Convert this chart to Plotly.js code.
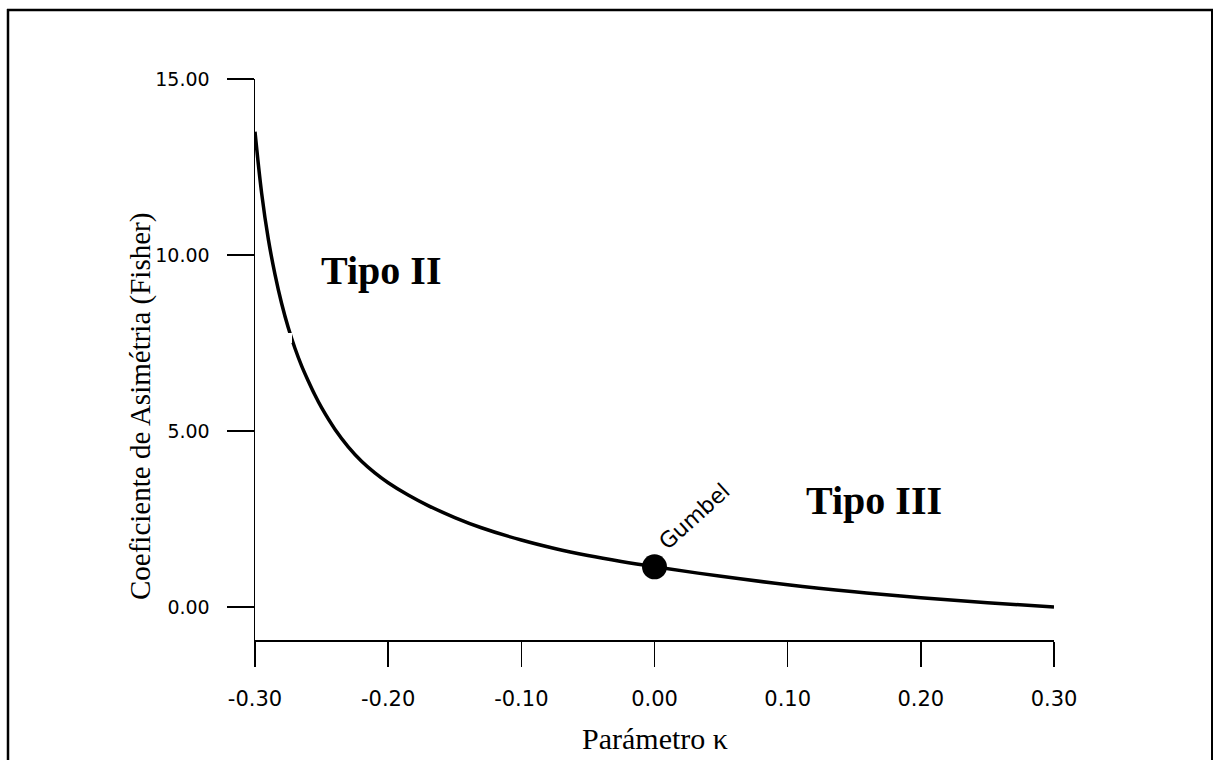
<!DOCTYPE html>
<html>
<head>
<meta charset="utf-8">
<script src="https://cdn.plot.ly/plotly-3.0.1.min.js"></script>
<style>html,body{margin:0;padding:0;background:#fff;}#chart{width:1216px;height:760px;}</style>
</head>
<body>
<div id="chart"></div>
<script>
// Parámetro κ (x) and Coeficiente de Asimetría (y)
const kappa = [-0.300, -0.295, -0.290, -0.285, -0.280, -0.275, -0.270, -0.265, -0.260, -0.255, -0.250, -0.240, -0.230, -0.220, -0.210, -0.200, -0.185, -0.170, -0.150, -0.130, -0.100, -0.075, -0.050, -0.025, 0.000, 0.050, 0.100, 0.150, 0.200, 0.250, 0.300];
const skew  = [13.50, 11.75, 10.45, 9.45, 8.62, 7.93, 7.35, 6.85, 6.42, 6.02, 5.66, 5.05, 4.55, 4.14, 3.81, 3.53, 3.18, 2.88, 2.54, 2.25, 1.90, 1.66, 1.46, 1.29, 1.14, 0.87, 0.63, 0.43, 0.26, 0.12, 0.00];
const gumbelK = [0.0];
const gumbelSkew = [1.14];
const xTicks = [-0.30, -0.20, -0.10, 0.00, 0.10, 0.20, 0.30];
const xTickText = ['-0.30', '-0.20', '-0.10', '0.00', '0.10', '0.20', '0.30'];
const yTicks = [0, 5, 10, 15];
const yTickText = ['0.00', '5.00', '10.00', '15.00'];

const traces = [
  {x: kappa, y: skew, mode: 'lines', line: {color: '#000', width: 3.5, shape: 'spline', smoothing: 1}, hoverinfo: 'skip'},
  {x: gumbelK, y: gumbelSkew, mode: 'markers', marker: {color: '#000', size: 25}, hoverinfo: 'skip'}
];

const W = 799, H = 561, L = 255, B = 640;
function px(x) { return (x - L) / W; }
function py(y) { return (B - y) / H; }

const layout = {
  width: 1216, height: 760,
  margin: {l: 255, r: 162, t: 79, b: 120},
  paper_bgcolor: '#fff', plot_bgcolor: '#fff',
  showlegend: false,
  xaxis: {
    range: [-0.30, 0.30], tickvals: xTicks, ticktext: xTickText,
    showgrid: false, zeroline: false, showline: true, linecolor: '#000', linewidth: 1.5,
    ticks: 'outside', ticklen: 25, tickwidth: 1.5, tickcolor: '#000',
    ticklabelstandoff: 14,
    tickfont: {family: 'DejaVu Sans', size: 21, color: '#000'}
  },
  yaxis: {
    range: [-0.94, 15], tickvals: yTicks, ticktext: yTickText,
    showgrid: false, zeroline: false, showline: true, linecolor: '#000', linewidth: 1.5,
    ticks: 'outside', ticklen: 27, tickwidth: 1.5, tickcolor: '#000',
    ticklabelstandoff: 13,
    tickfont: {family: 'DejaVu Sans', size: 19, color: '#000'}
  },
  shapes: [
    {type: 'line', xref: 'paper', yref: 'paper', x0: px(8), x1: px(8), y0: py(9), y1: py(800), line: {color: '#000', width: 2.5}},
    {type: 'line', xref: 'paper', yref: 'paper', x0: px(7), x1: px(1213), y0: py(10), y1: py(10), line: {color: '#000', width: 2.5}},
    {type: 'line', xref: 'paper', yref: 'paper', x0: px(1212), x1: px(1212), y0: py(9), y1: py(800), line: {color: '#000', width: 2}},
    {type: 'rect', xref: 'paper', yref: 'paper', layer: 'above', x0: px(284), x1: px(292), y0: py(343), y1: py(333), fillcolor: '#fff', line: {width: 0}}
  ],
  annotations: [
    {xref: 'paper', yref: 'paper', x: px(381), y: py(270), text: '<b>Tipo II</b>', showarrow: false,
     font: {family: 'Liberation Serif', size: 40, color: '#000'}, xanchor: 'center', yanchor: 'middle'},
    {xref: 'paper', yref: 'paper', x: px(874), y: py(500), text: '<b>Tipo III</b>', showarrow: false,
     font: {family: 'Liberation Serif', size: 40, color: '#000'}, xanchor: 'center', yanchor: 'middle'},
    {xref: 'paper', yref: 'paper', x: px(694), y: py(516), text: 'Gumbel', showarrow: false, textangle: -42,
     font: {family: 'DejaVu Sans', size: 22, color: '#000'}, xanchor: 'center', yanchor: 'middle'},
    {xref: 'paper', yref: 'paper', x: px(140), y: py(407), text: 'Coeficiente de Asimétria (Fisher)', showarrow: false, textangle: -90,
     font: {family: 'Liberation Serif', size: 29, color: '#000'}, xanchor: 'center', yanchor: 'middle'},
    {xref: 'paper', yref: 'paper', x: px(655), y: py(738), text: 'Parámetro κ', showarrow: false,
     font: {family: 'Liberation Serif', size: 30, color: '#000'}, xanchor: 'center', yanchor: 'middle'}
  ]
};

Plotly.newPlot('chart', traces, layout, {displayModeBar: false, staticPlot: true});
</script>
</body>
</html>
